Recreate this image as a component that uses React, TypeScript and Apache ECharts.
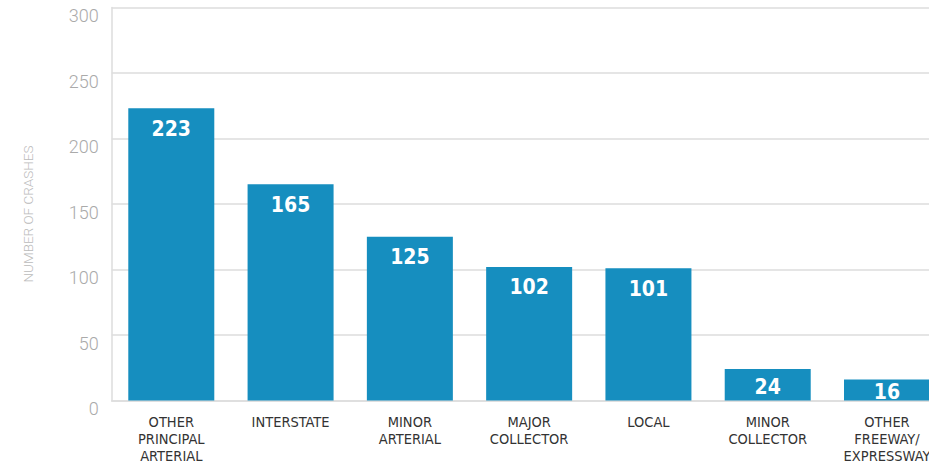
import React, { useEffect, useRef } from "react";
import * as echarts from "echarts";

const categories = [
  "OTHER\nPRINCIPAL\nARTERIAL",
  "INTERSTATE",
  "MINOR\nARTERIAL",
  "MAJOR\nCOLLECTOR",
  "LOCAL",
  "MINOR\nCOLLECTOR",
  "OTHER\nFREEWAY/\nEXPRESSWAY",
];
const crashes = [223, 165, 125, 102, 101, 24, 16];
const yAxisTitle = "NUMBER OF CRASHES";

const NARROW = "'DejaVu Sans Condensed', 'Liberation Sans Narrow', 'Arial Narrow', sans-serif";

export default function App() {
  const ref = useRef<HTMLDivElement>(null);
  useEffect(() => {
    if (!ref.current) return;
    const chart = echarts.init(ref.current, null, { renderer: "svg" });
    chart.setOption({
      animation: false,
      grid: { left: 111.65, top: 7.5, bottom: 66.5, width: 835, outerBoundsMode: "none", containLabel: false },
      xAxis: {
        type: "category",
        data: categories,
        axisLine: { show: true, lineStyle: { color: "#dddddd", width: 1.5 } },
        axisTick: { show: false },
        axisLabel: {
          interval: 0,
          margin: 12.5,
          color: "#333333",
          fontFamily: NARROW,
          fontSize: 14.5,
          lineHeight: 17,
        },
      },
      yAxis: {
        type: "value",
        min: 0,
        max: 300,
        interval: 50,
        axisLine: { show: true, lineStyle: { color: "#dddddd", width: 1.5 } },
        axisTick: { show: false },
        splitLine: { lineStyle: { color: "#dddddd", width: 1.5 } },
        axisLabel: {
          margin: 13,
          color: "#aaaaaa",
          fontFamily: "Roboto, sans-serif",
          fontWeight: 300,
          fontSize: 18,
          verticalAlign: "top",
          lineHeight: 16,
        },
      },
      graphic: [
        {
          type: "text",
          x: 28,
          y: 214,
          rotation: Math.PI / 2,
          style: {
            text: yAxisTitle,
            fill: "#bbbbbb",
            fontFamily: "Roboto, sans-serif",
            fontWeight: 300,
            fontSize: 13.5,
            textAlign: "center",
            textVerticalAlign: "middle",
          },
        },
      ],
      series: [
        {
          type: "bar",
          barWidth: 86,
          data: crashes.map((v) => ({
            value: v,
            label: v < 30 ? { position: "inside", offset: [0, 2] } : undefined,
          })),
          itemStyle: { color: "#168ebf" },
          label: {
            show: true,
            position: "insideTop",
            distance: 10,
            color: "#ffffff",
            fontFamily: NARROW,
            fontWeight: "bold",
            fontSize: 21,
          },
        },
      ],
    });
    return () => chart.dispose();
  }, []);
  return (
    <div
      ref={ref}
      style={{ position: "fixed", left: 0, top: 0, width: 929, height: 467, background: "#fff" }}
    />
  );
}
